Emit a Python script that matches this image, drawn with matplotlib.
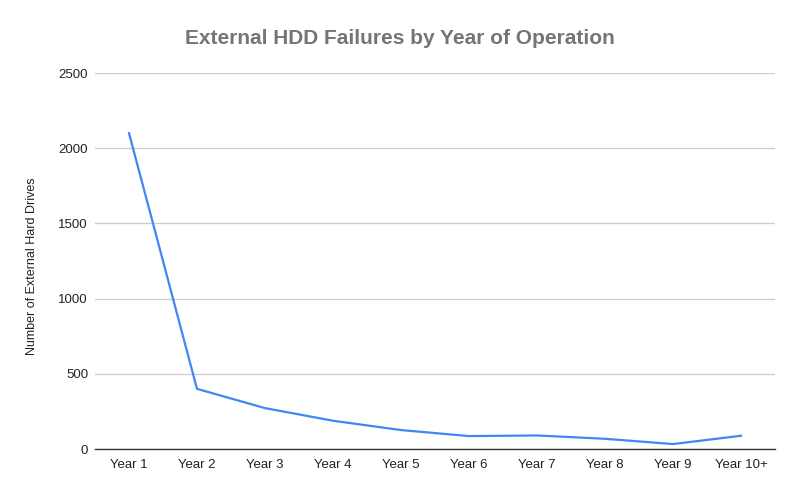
import matplotlib.pyplot as plt
import numpy as np

years = ["Year 1", "Year 2", "Year 3", "Year 4", "Year 5",
         "Year 6", "Year 7", "Year 8", "Year 9", "Year 10+"]
failures = [2100, 400, 272, 188, 126, 86, 90, 68, 33, 88]
yticks = [0, 500, 1000, 1500, 2000, 2500]

plt.rcParams['font.family'] = ['Liberation Sans', 'DejaVu Sans']

fig = plt.figure(figsize=(8, 4.95), dpi=100)
ax = fig.add_axes([0.11875, 0.0929, 0.85, 0.7596])

x = np.arange(len(years))
ax.plot(x, failures, color="#4285F4", linewidth=1.6)

ax.set_xlim(-0.5, len(years) - 0.5)
ax.set_ylim(0, 2500)
ax.set_yticks(yticks)
ax.set_xticks(x)
ax.set_xticklabels(years)
ax.tick_params(axis='both', length=0, labelsize=9.5, colors="#222222")
ax.tick_params(axis='x', pad=7)
ax.tick_params(axis='y', pad=5)

ax.grid(axis='y', color="#cccccc", linewidth=0.9)
ax.set_axisbelow(True)
for s in ['top', 'right', 'left']:
    ax.spines[s].set_visible(False)
ax.spines['bottom'].set_color("#333333")
ax.spines['bottom'].set_linewidth(1.0)

ax.set_ylabel("Number of External Hard Drives", fontsize=9, color="#222222", labelpad=12)
ax.yaxis.set_label_coords(-0.084, 0.485)
fig.text(0.5, 0.923, "External HDD Failures by Year of Operation",
         ha='center', va='center', fontsize=15, fontweight='bold', color="#757575")

plt.savefig("out.png", dpi=100)
